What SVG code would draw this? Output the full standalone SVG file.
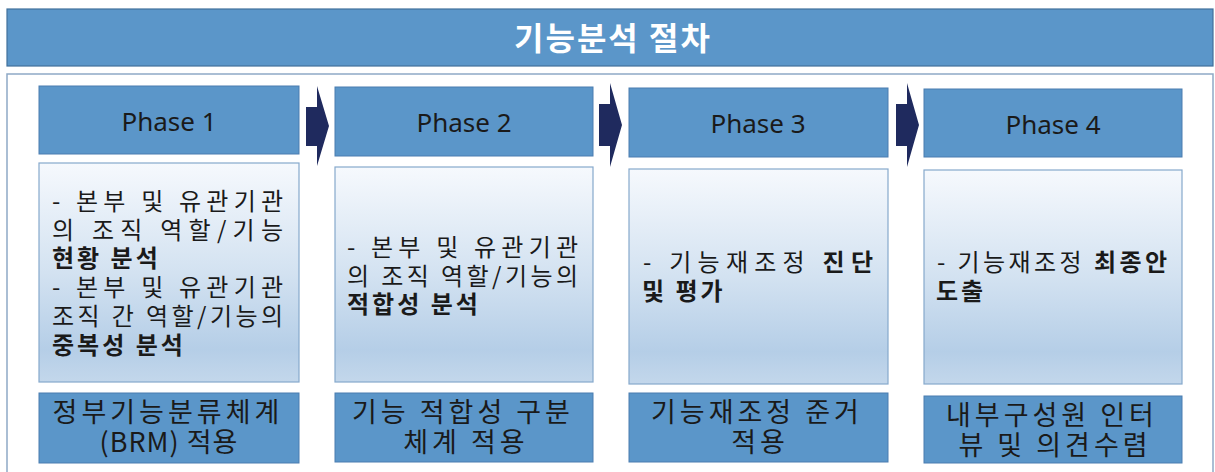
<svg xmlns="http://www.w3.org/2000/svg" width="1215" height="472" viewBox="0 0 1215 472">
  <defs>
    <linearGradient id="bodyFill" x1="0" y1="0" x2="0" y2="1">
      <stop offset="0" stop-color="#f6f9fd"/>
      <stop offset="0.5" stop-color="#d3e2f1"/>
      <stop offset="0.85" stop-color="#b5cee7"/>
      <stop offset="1" stop-color="#c3d7eb"/>
    </linearGradient>
    <style>
      .bar { fill: #5b96c9; stroke: #41719c; stroke-width: 1.2; }
      .head { fill: #5b96c9; stroke: #4a7db0; stroke-width: 1; }
      .body { fill: url(#bodyFill); stroke: #86a9cc; stroke-width: 1.2; }
      .foot { fill: #5b96c9; stroke: #4a7db0; stroke-width: 1; }
      .frame { fill: #ffffff; stroke: #8ea9c6; stroke-width: 1.5; }
      .arrow { fill: #1f2a5e; }
      .title { font-family: "Noto Sans CJK KR", "Noto Sans", sans-serif; font-size: 32px; font-weight: bold; fill: #ffffff; text-anchor: middle; letter-spacing: 2px; }
      .phase { font-family: "Noto Sans", "Noto Sans CJK KR", sans-serif; font-size: 26px; fill: #1a1a1a; text-anchor: middle; }
      .txt { font-family: "Noto Sans CJK KR", sans-serif; font-size: 24px; fill: #1a1a1a; }
      .b { font-weight: bold; }
      .bl { font-weight: bold; letter-spacing: 3px; }
      .ftxt { font-family: "Noto Sans CJK KR", sans-serif; font-size: 27px; fill: #1a1a1a; text-anchor: middle; }
      .wide { letter-spacing: 4px; }
      .narrow { letter-spacing: 1px; }
    </style>
  </defs>

  <!-- title bar -->
  <g id="title">
    <rect class="bar" x="7" y="9" width="1206" height="57"/>
    <text class="title" x="613" y="50">기능분석 절차</text>
  </g>

  <!-- outer frame -->
  <rect class="frame" x="7" y="74" width="1206" height="420"/>

  <g id="phase1">
    <rect class="head" x="39" y="86" width="260" height="68"/>
    <text class="phase" x="169" y="131">Phase 1</text>
    <rect class="body" x="39" y="163" width="260" height="219"/>
    <text class="txt">
      <tspan x="52" y="210" textLength="231" lengthAdjust="spacing">- 본부 및 유관기관</tspan>
      <tspan x="52" y="239" textLength="231" lengthAdjust="spacing">의 조직 역할/기능</tspan>
      <tspan class="bl" x="52" y="267">현황 분석</tspan>
      <tspan x="52" y="296" textLength="231" lengthAdjust="spacing">- 본부 및 유관기관</tspan>
      <tspan x="52" y="325" textLength="231" lengthAdjust="spacing">조직 간 역할/기능의</tspan>
      <tspan class="bl" x="52" y="354">중복성 분석</tspan>
    </text>
    <rect class="foot" x="39" y="393" width="260" height="70"/>
    <text class="ftxt">
      <tspan class="wide" x="171" y="422">정부기능분류체계</tspan>
      <tspan class="narrow" x="169" y="452">(BRM) 적용</tspan>
    </text>
  </g>

  <g id="phase2">
    <rect class="head" x="335" y="87" width="258" height="69"/>
    <text class="phase" x="464" y="132">Phase 2</text>
    <rect class="body" x="335" y="167" width="258" height="215"/>
    <text class="txt">
      <tspan x="347" y="256" textLength="231" lengthAdjust="spacing">- 본부 및 유관기관</tspan>
      <tspan x="347" y="285" textLength="231" lengthAdjust="spacing">의 조직 역할/기능의</tspan>
      <tspan class="bl" x="347" y="313">적합성 분석</tspan>
    </text>
    <rect class="foot" x="335" y="393" width="258" height="69"/>
    <text class="ftxt">
      <tspan class="wide" x="466" y="422">기능 적합성 구분</tspan>
      <tspan class="wide" x="466" y="452">체계 적용</tspan>
    </text>
  </g>

  <g id="phase3">
    <rect class="head" x="629" y="88" width="259" height="69"/>
    <text class="phase" x="758" y="133">Phase 3</text>
    <rect class="body" x="629" y="169" width="259" height="215"/>
    <text class="txt">
      <tspan x="643" y="271" textLength="230" lengthAdjust="spacing">- 기능재조정 <tspan class="b">진단</tspan></tspan>
      <tspan class="bl" x="642" y="300">및 평가</tspan>
    </text>
    <rect class="foot" x="629" y="393" width="259" height="69"/>
    <text class="ftxt">
      <tspan class="wide" x="760" y="422">기능재조정 준거</tspan>
      <tspan class="wide" x="760" y="452">적용</tspan>
    </text>
  </g>

  <g id="phase4">
    <rect class="head" x="924" y="89" width="258" height="68"/>
    <text class="phase" x="1053" y="134">Phase 4</text>
    <rect class="body" x="924" y="170" width="258" height="214"/>
    <text class="txt">
      <tspan x="937" y="271" textLength="230" lengthAdjust="spacing">- 기능재조정 <tspan class="b">최종안</tspan></tspan>
      <tspan class="bl" x="936" y="300">도출</tspan>
    </text>
    <rect class="foot" x="924" y="396" width="258" height="67"/>
    <text class="ftxt">
      <tspan class="wide" x="1055" y="425">내부구성원 인터</tspan>
      <tspan class="wide" x="1055" y="455">뷰 및 의견수렴</tspan>
    </text>
  </g>

  <!-- step arrows between phases -->
  <g id="connectors">
    <polygon class="arrow" points="306,107 317,107 317,86 329,126 317,166 317,146 306,146"/>
    <polygon class="arrow" points="599,104 610,104 610,83 622,125 610,167 610,146 599,146"/>
    <polygon class="arrow" points="896,104 907,104 907,83 919,125 907,167 907,146 896,146"/>
  </g>
</svg>
